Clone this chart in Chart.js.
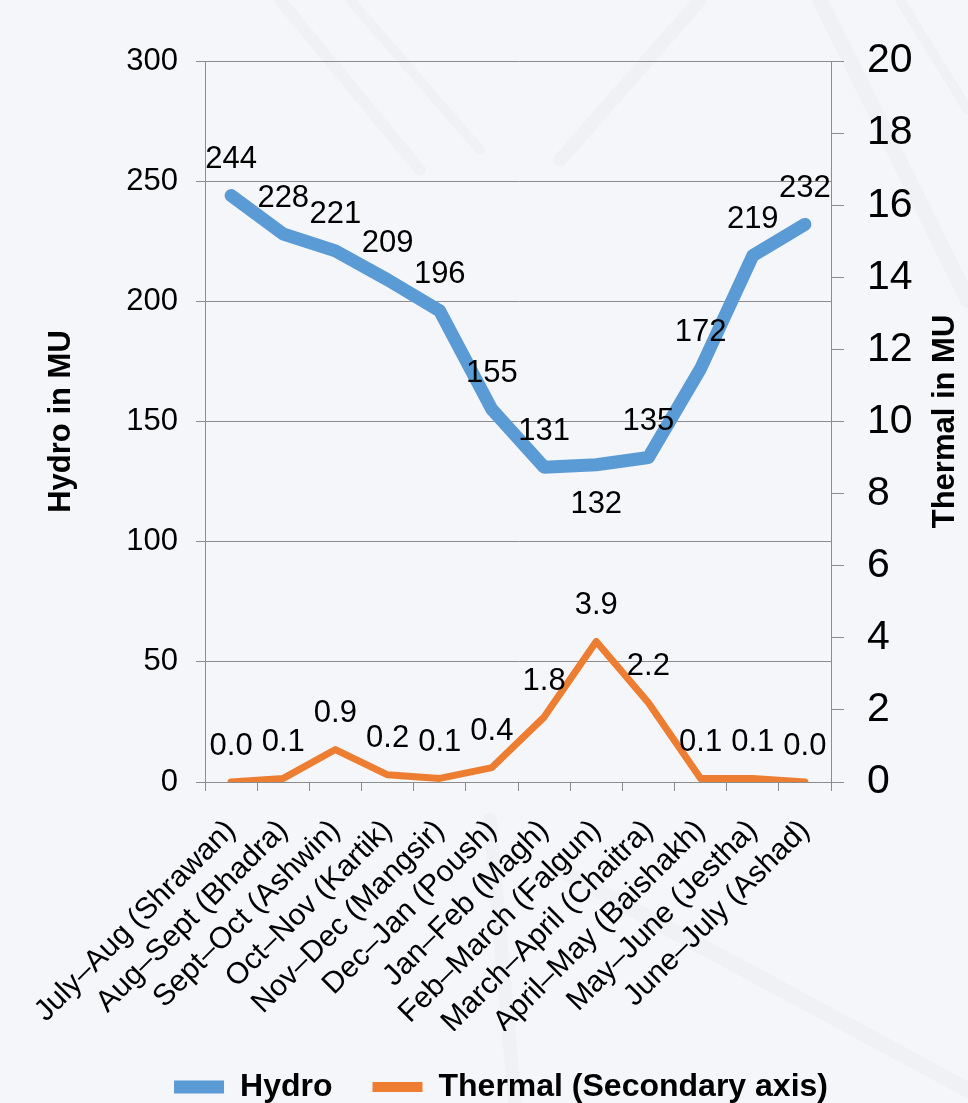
<!DOCTYPE html>
<html lang="en">
<head>
<meta charset="utf-8">
<title>Hydro and Thermal generation by month</title>
<script src="https://cdn.jsdelivr.net/npm/chart.js@4.4.1/dist/chart.umd.min.js"></script>
<style>
    html, body { margin: 0; padding: 0; background: #f5f6f9; overflow: hidden; }
    #chart { display: block; }
</style>
</head>
<body>
<canvas id="chart" width="968" height="1113"></canvas>
<script>
// Nepali months with their English month spans
const months = [
    'July–Aug (Shrawan)', 'Aug–Sept (Bhadra)', 'Sept–Oct (Ashwin)', 'Oct–Nov (Kartik)',
    'Nov–Dec (Mangsir)', 'Dec–Jan (Poush)', 'Jan–Feb (Magh)', 'Feb–March (Falgun)',
    'March–April (Chaitra)', 'April–May (Baishakh)', 'May–June (Jestha)', 'June–July (Ashad)'
];

// Energy in MU
const hydro = [244, 228, 221, 209, 196, 155, 131, 132, 135, 172, 219, 232];
const thermal = [0.0, 0.1, 0.9, 0.2, 0.1, 0.4, 1.8, 3.9, 2.2, 0.1, 0.1, 0.0];

// Axis tick values
const hydroTicks = [0, 50, 100, 150, 200, 250, 300];
const thermalTicks = [0, 2, 4, 6, 8, 10, 12, 14, 16, 18, 20];

const thermalTitle = 'Thermal in MU';
const gridColor = '#8c8c8c';
const fontFamily = '"Liberation Sans", Arial, sans-serif';
Chart.defaults.font.family = fontFamily;
Chart.defaults.color = '#000';

// Paints the slide background, with a few faint strokes like the photo behind it
const background = {
    id: 'background',
    beforeDraw(chart) {
        const ctx = chart.ctx;
        ctx.save();
        ctx.fillStyle = '#f5f6f9';
        ctx.fillRect(0, 0, chart.width, chart.height);
        ctx.strokeStyle = 'rgba(0, 0, 0, 0.018)';
        ctx.lineCap = 'round';
        [
            [280, 0, 420, 170, 12],
            [350, 0, 480, 150, 10],
            [700, 0, 560, 160, 14],
            [820, 0, 968, 300, 16],
            [900, 0, 968, 110, 10],
            [490, 820, 515, 1103, 14],
            [560, 870, 968, 1090, 16]
        ].forEach(([x1, y1, x2, y2, w]) => {
            ctx.lineWidth = w;
            ctx.beginPath();
            ctx.moveTo(x1, y1);
            ctx.lineTo(x2, y2);
            ctx.stroke();
        });
        ctx.restore();
    }
};

// Writes the value above (or below) every point
const valueLabels = {
    id: 'valueLabels',
    afterDatasetsDraw(chart) {
        const ctx = chart.ctx;
        ctx.save();
        ctx.font = `31px ${fontFamily}`;
        ctx.fillStyle = '#000';
        ctx.textAlign = 'center';
        ctx.textBaseline = 'middle';
        chart.data.datasets.forEach((ds, di) => {
            const meta = chart.getDatasetMeta(di);
            meta.data.forEach((pt, i) => {
                const below = (ds.labelsBelow || []).includes(i);
                ctx.fillText(ds.data[i].toFixed(ds.decimals), pt.x, pt.y + (below ? 40 : -36));
            });
        });
        ctx.restore();
    }
};

// Secondary axis title, read bottom to top like the primary one
const secondaryTitle = {
    id: 'secondaryTitle',
    afterDraw(chart) {
        const scale = chart.scales.yThermal;
        const area = chart.chartArea;
        const ctx = chart.ctx;
        ctx.save();
        ctx.translate(scale.right - 23, (area.top + area.bottom) / 2);
        ctx.rotate(-Math.PI / 2);
        ctx.font = `bold 31px ${fontFamily}`;
        ctx.fillStyle = '#000';
        ctx.textAlign = 'center';
        ctx.textBaseline = 'middle';
        ctx.fillText(thermalTitle, 0, 0);
        ctx.restore();
    }
};

new Chart(document.getElementById('chart'), {
    type: 'line',
    data: {
        labels: months,
        datasets: [
            {
                label: 'Hydro',
                data: hydro,
                yAxisID: 'yHydro',
                borderColor: '#5b9bd5',
                backgroundColor: '#5b9bd5',
                borderWidth: 13,
                borderCapStyle: 'round',
                borderJoinStyle: 'round',
                pointRadius: 0,
                tension: 0,
                decimals: 0,
                labelsBelow: [7]
            },
            {
                label: 'Thermal (Secondary axis)',
                data: thermal,
                yAxisID: 'yThermal',
                borderColor: '#ed7d31',
                backgroundColor: '#ed7d31',
                borderWidth: 7,
                borderCapStyle: 'round',
                borderJoinStyle: 'round',
                pointRadius: 0,
                tension: 0,
                decimals: 1
            }
        ]
    },
    options: {
        responsive: false,
        animation: false,
        layout: { padding: { top: 61, left: 34, right: 0, bottom: 0 } },
        plugins: {
            tooltip: { enabled: false },
            legend: {
                position: 'bottom',
                labels: {
                    usePointStyle: true,
                    pointStyle: 'line',
                    pointStyleWidth: 50,
                    padding: 40,
                    color: '#000',
                    font: { size: 32, weight: 'bold' },
                    generateLabels: chart => Chart.defaults.plugins.legend.labels.generateLabels(chart).map(item => {
                        item.lineWidth = item.datasetIndex === 1 ? 10 : 13;
                        return item;
                    })
                }
            }
        },
        scales: {
            x: {
                offset: true,
                grid: { offset: true, drawOnChartArea: false, color: gridColor, tickLength: 9 },
                border: { color: gridColor },
                ticks: { font: { size: 30 }, color: '#000', maxRotation: 45, minRotation: 45, autoSkip: false, padding: 22 },
                afterFit: scale => { scale.height = 249; }
            },
            yHydro: {
                position: 'left',
                min: 0,
                max: 300,
                afterBuildTicks: scale => { scale.ticks = hydroTicks.map(v => ({ value: v })); },
                grid: { color: gridColor, tickLength: 9 },
                border: { color: gridColor },
                ticks: { font: { size: 31 }, color: '#000', padding: 18 },
                title: {
                    display: true,
                    text: 'Hydro in MU',
                    color: '#000',
                    font: { size: 31, weight: 'bold' },
                    padding: { top: 9, bottom: 0 }
                },
                afterFit: scale => { scale.width = 171; }
            },
            yThermal: {
                position: 'right',
                min: 0,
                max: 20,
                afterBuildTicks: scale => { scale.ticks = thermalTicks.map(v => ({ value: v })); },
                grid: { drawOnChartArea: false, color: gridColor, tickLength: 13 },
                border: { color: gridColor },
                ticks: { font: { size: 41 }, color: '#000', padding: 23 },
                afterFit: scale => { scale.width = 137; }
            }
        }
    },
    plugins: [background, valueLabels, secondaryTitle]
});
</script>
</body>
</html>
